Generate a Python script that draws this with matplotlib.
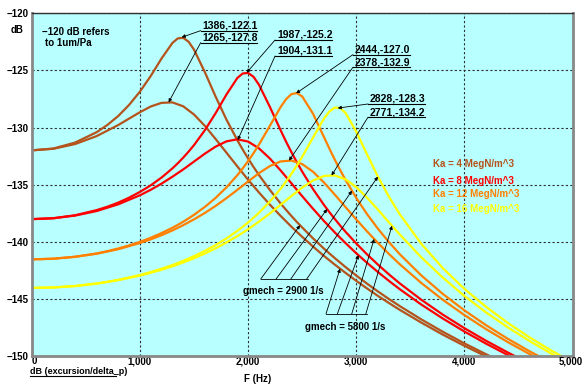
import numpy as np
import matplotlib.pyplot as plt
from matplotlib.lines import Line2D

plt.rcParams['font.family'] = ['Liberation Sans', 'DejaVu Sans']
plt.rcParams['font.weight'] = 'bold'
plt.rcParams['font.size'] = 7

# frequency grids (Hz): a finer one for the sharp gmech = 2900 curves
freq = [0, 200, 400, 600, 800, 1000, 1100, 1200, 1300, 1400, 1500, 1600, 1700,
        1800, 1900, 2000, 2100, 2200, 2300, 2400, 2500, 2600, 2700, 2800, 2900,
        3000, 3100, 3200, 3300, 3400, 3600, 3800, 4000, 4200, 4400, 4600, 4800, 5000]
freq_fine = [0, 200, 400, 600, 700, 800, 900, 1000, 1100, 1200, 1300, 1350, 1400, 1450,
             1500, 1600, 1700, 1800, 1900, 1950, 2000, 2050, 2100, 2200, 2300, 2350, 2400,
             2450, 2500, 2600, 2700, 2750, 2800, 2850, 2900, 3000, 3100, 3200, 3300, 3400,
             3600, 3800, 4000, 4200, 4400, 4600, 4800, 5000]

# dB (excursion/delta_p), gmech = 2900 1/s (on freq_fine)
ka4_g2900 = [-132.00, -131.84, -131.32, -130.41, -129.77, -128.99, -128.02, -126.86, -125.49,
             -123.96, -122.60, -122.20, -122.15, -122.49, -123.18, -125.15, -127.30, -129.31,
             -131.10, -131.93, -132.71, -133.45, -134.15, -135.45, -136.64, -137.20, -137.74,
             -138.26, -138.75, -139.70, -140.59, -141.01, -141.42, -141.82, -142.21, -142.96,
             -143.67, -144.35, -145.00, -145.62, -146.79, -147.88, -148.90, -149.85, -150.75]
ka8_g2900 = [-138.02, -137.94, -137.68, -137.23, -136.93, -136.57, -136.14, -135.64, -135.06,
             -134.38, -133.58, -133.13, -132.64, -132.11, -131.54, -130.24, -128.74, -127.11,
             -125.67, -125.27, -125.22, -125.56, -126.25, -128.17, -130.23, -131.22, -132.15,
             -133.03, -133.86, -135.39, -136.76, -137.39, -137.99, -138.57, -139.12, -140.15,
             -141.11, -142.00, -142.84, -143.63, -145.07, -146.38, -147.57, -148.67, -149.69,
             -150.65]
ka12_g2900 = [-141.54, -141.48, -141.31, -141.02, -140.82, -140.59, -140.32, -140.01, -139.65,
              -139.24, -138.78, -138.52, -138.25, -137.95, -137.64, -136.95, -136.16, -135.24,
              -134.18, -133.58, -132.94, -132.25, -131.50, -129.87, -128.22, -127.53, -127.08,
              -126.98, -127.28, -128.79, -130.81, -131.82, -132.79, -133.71, -134.58, -136.17,
              -137.59, -138.86, -140.01, -141.07, -142.94, -144.57, -146.01, -147.31, -148.49,
              -149.58, -150.58]
ka16_g2900 = [-144.04, -144.00, -143.87, -143.65, -143.50, -143.33, -143.13, -142.91, -142.65,
              -142.36, -142.04, -141.86, -141.67, -141.47, -141.26, -140.80, -140.29, -139.71,
              -139.05, -138.69, -138.31, -137.90, -137.46, -136.49, -135.37, -134.74, -134.06,
              -133.34, -132.56, -130.88, -129.24, -128.61, -128.26, -128.29, -128.72, -130.36,
              -132.37, -134.30, -136.03, -137.57, -140.17, -142.31, -144.13, -145.70, -147.10,
              -148.36, -149.51, -150.56]

# dB (excursion/delta_p), gmech = 5800 1/s (on freq)
ka4_g5800 = [-132.00, -131.86, -131.45, -130.75, -129.78, -128.66, -128.16, -127.84, -127.80,
             -128.14, -128.86, -129.85, -131.01, -132.20, -133.40, -134.57, -135.68, -136.74,
             -137.73, -138.68, -139.57, -140.42, -141.23, -141.99, -142.72, -143.42, -144.09,
             -144.74, -145.35, -145.95, -147.07, -148.13, -149.11, -150.04, -150.92]
ka8_g5800 = [-138.02, -137.94, -137.71, -137.31, -136.72, -135.93, -135.45, -134.91, -134.31,
             -133.67, -132.98, -132.29, -131.67, -131.21, -131.03, -131.23, -131.82, -132.70,
             -133.75, -134.88, -136.01, -137.11, -138.17, -139.17, -140.11, -141.01, -141.85,
             -142.65, -143.41, -144.14, -145.49, -146.72, -147.86, -148.92, -149.91, -150.84]
ka12_g5800 = [-141.54, -141.49, -141.32, -141.05, -140.65, -140.11, -139.79, -139.42, -139.01,
              -138.55, -138.04, -137.48, -136.86, -136.18, -135.46, -134.72, -134.00, -133.38,
              -132.97, -132.89, -133.20, -133.87, -134.80, -135.86, -136.96, -138.05, -139.10,
              -140.10, -141.05, -141.95, -143.60, -145.08, -146.42, -147.65, -148.78, -149.82,
              -150.80]
ka16_g5800 = [-144.04, -144.00, -143.88, -143.67, -143.36, -142.96, -142.72, -142.45, -142.15,
              -141.81, -141.44, -141.03, -140.57, -140.06, -139.51, -138.90, -138.24, -137.53,
              -136.77, -136.00, -135.26, -134.64, -134.24, -134.19, -134.53, -135.22, -136.15,
              -137.19, -138.28, -139.34, -141.35, -143.14, -144.75, -146.19, -147.49, -148.68,
              -149.78, -150.79]

ka_labels = ['Ka = 4 MegN/m^3', 'Ka = 8 MegN/m^3', 'Ka = 12 MegN/m^3', 'Ka = 16 MegN/m^3']
ka_label_db = [-133.18, -134.67, -135.84, -137.10]
ka_colors = ['#b5531c', '#ff0000', '#ff8000', '#ffff00']
curves_2900 = [ka4_g2900, ka8_g2900, ka12_g2900, ka16_g2900]
curves_5800 = [ka4_g5800, ka8_g5800, ka12_g5800, ka16_g5800]

# peak labels
peak_f = [1386, 1265, 1987, 1904, 2444, 2378, 2828, 2771]
peak_db = [-122.1, -127.8, -125.2, -131.1, -127.0, -132.9, -128.3, -134.2]
label_f = [1562, 1562, 2249, 2249, 2969, 2969, 3108, 3108]
label_db = [-121.52, -122.57, -122.34, -123.74, -123.62, -124.72, -127.94, -129.10]

# gmech leader lines: start freq on the bar, target freq on each curve
g2900_start = [2116, 2258, 2394, 2541]
g2900_target = [2480, 2730, 2960, 3200]
g2900_bar_db = -143.27
g5800_start = [2720, 2825, 2958, 3088]
g5800_target = [2850, 3020, 3165, 3330]
g5800_bar_db = -146.31

fig = plt.figure(figsize=(5.83, 3.85), dpi=100)
ax = fig.add_axes([0.0544, 0.0753, 0.9279, 0.8902])
ax.set_facecolor('#b8ffff')

for c2, c5, col in zip(curves_2900, curves_5800, ka_colors):
    ax.plot(freq_fine[:len(c2)], c2, color=col, lw=1.6)
    ax.plot(freq[:len(c5)], c5, color=col, lw=1.6)

ax.set_xlim(0, 5000)
ax.set_ylim(-150, -120)
ax.set_xticks([0, 1000, 2000, 3000, 4000, 5000])
ax.set_xticklabels(['0', '1,000', '2,000', '3,000', '4,000', ''])
ax.get_xticklabels()[0].set_ha('left')
ax.set_yticks([-150, -145, -140, -135, -130, -125, -120])
ax.set_yticklabels(['\u2212150', '\u2212145', '\u2212140', '\u2212135', '\u2212130',
                    '\u2212125', '\u2212120'])
ax.tick_params(length=0, pad=2, labelsize=7)
ax.tick_params(axis='x', pad=0)
ax.grid(True, color='#303030', linestyle=(0, (2, 2)), lw=0.8)
for side in ['left', 'bottom', 'right']:
    ax.spines[side].set_color('#888888')
    ax.spines[side].set_linewidth(2)
ax.spines['top'].set_color('#303030')
ax.spines['top'].set_linewidth(1)
fig.text(1.0, 1 - 361 / 385, '5,000', fontsize=7, ha='right', va='center')

# peak annotations
for pf, pd, lf, ld in zip(peak_f, peak_db, label_f, label_db):
    ax.annotate('', xy=(pf, pd), xytext=(lf, ld),
                arrowprops=dict(arrowstyle='-|>', color='black', lw=0.6,
                                mutation_scale=5, shrinkA=0, shrinkB=0))
    ax.plot([lf, lf + 523], [ld, ld], color='black', lw=0.8)
    ax.text(lf + 18, ld + 0.45, f'{pf},{pd:.1f}', fontsize=7.5, ha='left', va='center')

# legend
for lab, ly, col in zip(ka_labels, ka_label_db, ka_colors):
    ax.text(3713, ly, lab, color=col, fontsize=7, ha='left', va='center')

# gmech leader lines
for starts, targets, curves, bar in [(g2900_start, g2900_target, curves_2900, g2900_bar_db),
                                     (g5800_start, g5800_target, curves_5800, g5800_bar_db)]:
    ax.plot([starts[0], starts[-1] + 15], [bar, bar], color='black', lw=0.6)
    for s, t, c in zip(starts, targets, curves):
        fx = freq_fine if curves is curves_2900 else freq
        ty = np.interp(t, fx[:len(c)], c)
        ax.annotate('', xy=(t, ty), xytext=(s, bar),
                    arrowprops=dict(arrowstyle='-|>', color='black', lw=0.6,
                                    mutation_scale=5, shrinkA=0, shrinkB=0))
ax.text(2325, -144.27, 'gmech = 2900 1/s', fontsize=7, ha='center', va='center')
ax.text(2896, -147.43, 'gmech = 5800 1/s', fontsize=7, ha='center', va='center')

ax.text(92, -121.66, '\u2212120 dB refers', fontsize=7, ha='left', va='center')
ax.text(123, -122.57, 'to 1um/Pa', fontsize=7, ha='left', va='center')

fig.text(16.7 / 583, 1 - 30 / 385, 'dB', fontsize=7, ha='center', va='center')
fig.text(30 / 583, 1 - 371 / 385, 'dB (excursion/delta_p)', fontsize=6.5, ha='left', va='center')
fig.add_artist(Line2D([30 / 583, 116 / 583], [1 - 376 / 385, 1 - 376 / 385], color='black', lw=0.8))
fig.text(258 / 583, 1 - 379 / 385, 'F (Hz)', fontsize=7, ha='center', va='center')

fig.savefig('out.png', dpi=100)
